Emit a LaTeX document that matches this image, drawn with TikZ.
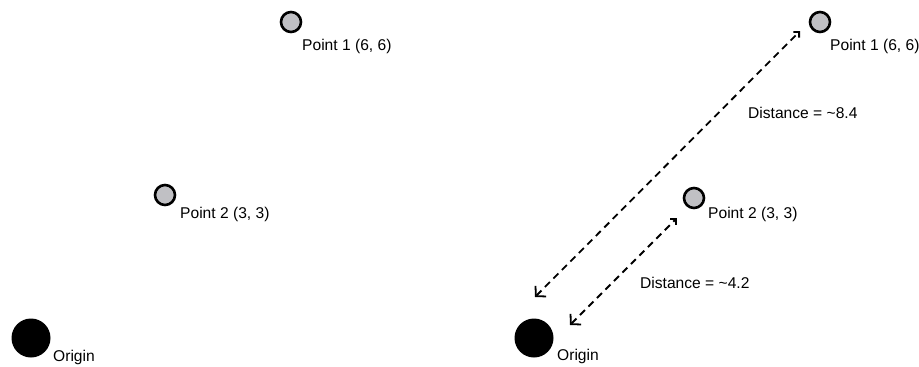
\documentclass[tikz,border=0pt]{standalone}
\usepackage{fontspec}
\setmainfont{Liberation Sans}
\usetikzlibrary{arrows.meta}
\definecolor{ptgray}{RGB}{192,192,196}
\begin{document}
\begin{tikzpicture}[x=1pt,y=-1pt,
	pt/.style={circle,draw,line width=2.6pt,fill=ptgray,minimum size=20pt,inner sep=0pt},
	org/.style={circle,fill=black,minimum size=39pt,inner sep=0pt},
	lbl/.style={anchor=base west,inner sep=0pt,font=\fontsize{15.6}{18}\selectfont},
	dist/.style={line width=1.8pt,dash pattern=on 7pt off 5pt,{Straight Barb[length=7pt,width=15pt]}-{Straight Barb[length=4pt,width=8pt]}}]
	\useasboundingbox (0,0) rectangle (919,367);
	\node[pt] (p1) at (291,22) {};
	\node[pt] (p2) at (165,195) {};
	\node[org] (o) at (31,338) {};
	\node[lbl] (p1l) at (302,50) {Point 1 (6, 6)};
	\node[lbl] (p2l) at (180,218) {Point 2 (3, 3)};
	\node[lbl] (ol) at (53,361) {Origin};
	\node[pt] (q1) at (820,22) {};
	\node[pt] (q2) at (694,198) {};
	\node[org] (oo) at (534,338) {};
	\node[lbl] (q1l) at (830,50) {Point 1 (6, 6)};
	\node[lbl] (q2l) at (708,218) {Point 2 (3, 3)};
	\node[lbl] (ool) at (557,360) {Origin};
	\node[lbl] (d1) at (748,118) {Distance = \textasciitilde8.4};
	\node[lbl] (d2) at (640,288) {Distance = \textasciitilde4.2};
	\coordinate (a1) at (535,297);
	\coordinate (b1) at (800,31);
	\coordinate (a2) at (570,325);
	\coordinate (b2) at (677,218);
	\draw[dist] (a1)--(b1);
	\draw[dist] (a2)--(b2);
\end{tikzpicture}
\end{document}
